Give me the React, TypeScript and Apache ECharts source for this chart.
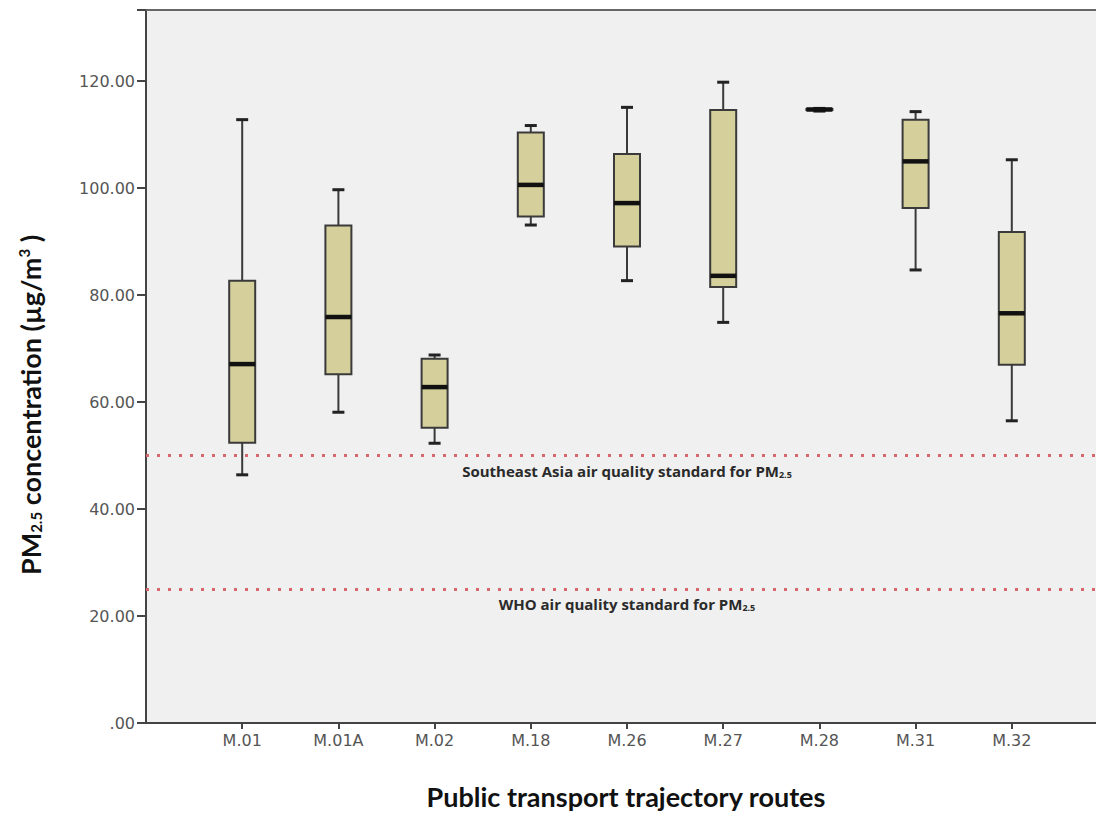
import React, { useEffect, useRef } from "react";
import * as echarts from "echarts";

const routes = ["M.01", "M.01A", "M.02", "M.18", "M.26", "M.27", "M.28", "M.31", "M.32"];
const mins = [46.4, 58.1, 52.3, 93.1, 82.7, 74.9, 114.4, 84.7, 56.5];
const q1s = [52.4, 65.2, 55.2, 94.7, 89.1, 81.5, 114.6, 96.3, 67.0];
const medians = [67.1, 75.9, 62.8, 100.6, 97.2, 83.6, 114.7, 105.0, 76.6];
const q3s = [82.7, 93.0, 68.1, 110.4, 106.4, 114.6, 114.8, 112.8, 91.8];
const maxs = [112.8, 99.7, 68.8, 111.7, 115.1, 119.8, 114.9, 114.3, 105.3];
const standards = [
  { value: 50, label: "Southeast Asia air quality standard for PM" },
  { value: 25, label: "WHO air quality standard for PM" },
];
const yTicks = [0, 20, 40, 60, 80, 100, 120];

export default function App() {
  const ref = useRef<HTMLDivElement>(null);
  useEffect(() => {
    if (!ref.current) return;
    document.documentElement.style.overflow = "hidden";
    document.body.style.margin = "0";
    const chart = echarts.init(ref.current, undefined, { renderer: "svg" });
    const categories = ["", ...routes, ""];
    const boxData = routes.map((_, k) => [k + 1, mins[k], q1s[k], medians[k], q3s[k], maxs[k]]);
    const dark = "#3a3a3a";
    const option: any = {
      animation: false,
      backgroundColor: "#ffffff",
      grid: {
        left: 146,
        top: 10,
        height: 713,
        width: 962,
        outerBoundsMode: "none",
        show: true,
        backgroundColor: "#eff0ef",
        borderColor: "transparent",
        borderWidth: 0,
      },
      xAxis: [
        {
          type: "category",
          data: categories,
          boundaryGap: false,
          axisLine: { show: true, lineStyle: { color: "#444", width: 2 } },
          axisTick: {
            show: true,
            length: 6,
            interval: (idx: number) => idx > 0 && idx < categories.length - 1,
            lineStyle: { color: "#444", width: 2 },
          },
          axisLabel: {
            interval: 0,
            color: "#555",
            fontSize: 16,
            fontFamily: "DejaVu Sans",
            margin: 9,
          },
          splitLine: { show: false },
        },
        {
          type: "category",
          data: categories,
          boundaryGap: false,
          position: "top",
          axisLine: { show: true, lineStyle: { color: "#666", width: 2 } },
          axisTick: { show: false },
          axisLabel: { show: false },
          splitLine: { show: false },
        },
      ],
      yAxis: {
        type: "value",
        min: 0,
        max: 133.3,
        interval: 20,
        axisLine: { show: true, lineStyle: { color: "#444", width: 2 } },
        axisTick: { show: true, length: 9, lineStyle: { color: "#444", width: 2 } },
        axisLabel: {
          color: "#555",
          fontSize: 16,
          fontFamily: "DejaVu Sans",
          margin: 11,
          formatter: (v: number) => {
            if (v === 0) return ".00";
            return yTicks.includes(Math.round(v * 100) / 100) ? v.toFixed(2) : "";
          },
        },
        splitLine: { show: false },
      },
      graphic: [
        {
          type: "text",
          x: 30,
          y: 405,
          rotation: Math.PI / 2,
          style: {
            text: "{b|PM}{s|2.5}{b| concentration (µg/m}{p|3}{b| )}",
            align: "center",
            verticalAlign: "middle",
            fill: "#111",
            rich: {
              b: { fontFamily: "Lato", fontWeight: "bold", fontSize: 27, fill: "#111", lineHeight: 34 },
              s: { fontFamily: "Lato", fontWeight: "bold", fontSize: 15, fill: "#111", lineHeight: 34, padding: [12, 0, 0, 0] },
              p: { fontFamily: "Lato", fontWeight: "bold", fontSize: 15, fill: "#111", lineHeight: 34, padding: [0, 0, 12, 0] },
            },
          },
        },
        {
          type: "text",
          x: 626,
          y: 796,
          style: {
            text: "Public transport trajectory routes",
            align: "center",
            verticalAlign: "middle",
            fontFamily: "Lato",
            fontWeight: "bold",
            fontSize: 27,
            fill: "#111",
          },
        },
      ],
      series: [
        {
          type: "custom",
          data: boxData,
          encode: { x: 0, y: [1, 2, 3, 4, 5] },
          renderItem: (params: any, api: any) => {
            const i = api.value(0);
            const x = api.coord([i, api.value(1)])[0];
            const yMin = api.coord([i, api.value(1)])[1];
            const yQ1 = api.coord([i, api.value(2)])[1];
            const yMed = api.coord([i, api.value(3)])[1];
            const yQ3 = api.coord([i, api.value(4)])[1];
            const yMax = api.coord([i, api.value(5)])[1];
            const bw = 26;
            const cw = 12;
            return {
              type: "group",
              children: [
                { type: "line", shape: { x1: x, y1: yMax, x2: x, y2: yQ3 }, style: { stroke: dark, lineWidth: 2 } },
                { type: "line", shape: { x1: x, y1: yQ1, x2: x, y2: yMin }, style: { stroke: dark, lineWidth: 2 } },
                { type: "line", shape: { x1: x - cw / 2, y1: yMax, x2: x + cw / 2, y2: yMax }, style: { stroke: "#222", lineWidth: 3 } },
                { type: "line", shape: { x1: x - cw / 2, y1: yMin, x2: x + cw / 2, y2: yMin }, style: { stroke: "#222", lineWidth: 3 } },
                {
                  type: "rect",
                  shape: { x: x - bw / 2, y: yQ3, width: bw, height: Math.max(yQ1 - yQ3, 1) },
                  style: { fill: "#d4cf9b", stroke: dark, lineWidth: 2 },
                },
                {
                  type: "line",
                  shape: { x1: x - bw / 2, y1: yMed, x2: x + bw / 2, y2: yMed },
                  style: { stroke: "#111", lineWidth: 4.5 },
                },
              ],
            };
          },
          z: 3,
        },
        {
          type: "line",
          data: [],
          markLine: {
            silent: true,
            symbol: ["none", "none"],
            lineStyle: { color: "#d6676c", type: [3, 8], width: 3, cap: "butt" },
            data: standards.map((s) => ({
              yAxis: s.value,
              label: {
                show: true,
                position: "insideMiddleBottom",
                distance: 6,
                formatter: `{a|${s.label}}{s|2.5}`,
                rich: {
                  a: { fontFamily: "Open Sans", fontWeight: "bold", fontSize: 15, color: "#2a2a2a", lineHeight: 18 },
                  s: { fontFamily: "Open Sans", fontWeight: "bold", fontSize: 9, color: "#2a2a2a", lineHeight: 18, padding: [7, 0, 0, 0] },
                },
              },
            })),
          },
        },
      ],
    };
    chart.setOption(option);
    return () => chart.dispose();
  }, []);
  return (
    <div
      ref={ref}
      style={{ position: "fixed", left: 0, top: 0, width: 1096, height: 813 }}
    />
  );
}
